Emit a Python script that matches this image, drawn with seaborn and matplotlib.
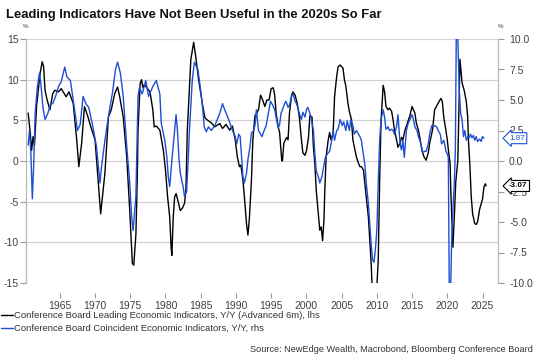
import matplotlib
matplotlib.use("Agg")
import matplotlib.pyplot as plt
import seaborn as sns
import pandas as pd

sns.set_theme(style="white")
plt.rcParams['font.family'] = ['Liberation Sans', 'DejaVu Sans']

# ---------------- data ----------------
lei_years = [1960.5, 1960.8, 1961.0, 1961.2, 1961.4, 1961.7, 1962.2, 1962.5, 1962.7, 1962.9,
             1963.2, 1963.6, 1964.0, 1964.3, 1964.8, 1965.2, 1965.9, 1966.3, 1966.9, 1967.4,
             1967.7, 1968.1, 1968.5, 1969.0, 1969.4, 1970.0, 1970.4, 1970.8, 1971.1, 1971.4,
             1971.9, 1972.3, 1972.8, 1973.2, 1973.5, 1974.0, 1974.5, 1974.9, 1975.3, 1975.5,
             1975.8, 1976.0, 1976.1, 1976.4, 1976.6, 1976.8, 1977.0, 1977.8, 1978.2, 1978.4,
             1978.7, 1979.2, 1979.7, 1980.0, 1980.3, 1980.6, 1980.8, 1980.9, 1981.1, 1981.3,
             1981.5, 1981.8, 1982.1, 1982.4, 1982.7, 1982.9, 1983.1, 1983.6, 1984.0, 1984.3,
             1984.7, 1985.3, 1985.6, 1986.0, 1986.5, 1987.0, 1987.7, 1988.1, 1988.6, 1989.1,
             1989.5, 1989.9, 1990.2, 1990.5, 1990.7, 1991.0, 1991.2, 1991.5, 1991.7, 1991.9,
             1992.2, 1992.4, 1992.7, 1992.9, 1993.2, 1993.5, 1993.8, 1994.1, 1994.4, 1994.7,
             1995.0, 1995.3, 1995.5, 1995.7, 1996.0, 1996.2, 1996.5, 1996.6, 1996.8, 1997.2,
             1997.4, 1997.6, 1997.9, 1998.1, 1998.4, 1998.7, 1999.0, 1999.3, 1999.5, 1999.8,
             2000.0, 2000.3, 2000.5, 2000.8, 2001.0, 2001.2, 2001.4, 2001.7, 2001.9, 2002.1,
             2002.3, 2002.5, 2002.6, 2002.8, 2003.1, 2003.3, 2003.5, 2003.8, 2004.0, 2004.3,
             2004.5, 2004.8, 2005.2, 2005.4, 2005.6, 2005.9, 2006.1, 2006.4, 2006.6, 2006.9,
             2007.1, 2007.4, 2007.6, 2007.8, 2008.1, 2008.5, 2008.8, 2009.2, 2009.4, 2009.9,
             2010.2, 2010.4, 2010.6, 2010.9, 2011.1, 2011.3, 2011.6, 2011.8, 2012.1, 2012.3,
             2012.5, 2012.8, 2013.0, 2013.3, 2013.5, 2013.7, 2014.0, 2014.2, 2014.7, 2015.0,
             2015.4, 2015.6, 2015.9, 2016.1, 2016.4, 2016.7, 2017.0, 2017.3, 2017.5, 2017.9,
             2018.2, 2018.7, 2019.1, 2019.3, 2019.5, 2019.8, 2020.0, 2020.2, 2020.4, 2020.5,
             2020.7, 2020.8, 2021.0, 2021.2, 2021.5, 2021.8, 2022.1, 2022.4, 2022.7, 2022.9,
             2023.0, 2023.2, 2023.4, 2023.6, 2023.9, 2024.1, 2024.3, 2024.6, 2024.8, 2025.0,
             2025.2, 2025.4, 2025.5]
lei_values = [5.9, 3.5, 1.3, 3.0, 1.9, 6.7, 10.8, 12.2, 11.6, 8.7,
              7.5, 6.3, 8.3, 8.7, 8.5, 8.9, 7.9, 8.5, 7.1, 2.6,
              -0.7, 2.2, 6.7, 5.4, 4.2, 2.6, -2.0, -6.5, -4.0, -1.5,
              5.4, 6.3, 8.3, 9.1, 7.9, 5.4, 0.5, -5.7, -12.6, -12.8,
              -9.0, -2.0, 3.8, 9.5, 10.0, 9.0, 9.4, 8.5, 6.3, 4.2,
              4.3, 3.8, 1.3, -1.1, -4.4, -6.9, -10.6, -11.6, -6.9, -4.4,
              -4.0, -5.0, -6.1, -5.8, -5.2, -3.5, 3.8, 12.5, 14.6, 12.8,
              10.0, 6.7, 5.3, 5.0, 4.7, 4.2, 4.6, 4.0, 4.5, 3.8,
              4.3, 2.6, 0.5, -0.7, -0.5, -2.4, -4.4, -7.7, -9.1, -7.2,
              -2.4, 2.6, 5.6, 5.8, 6.3, 8.1, 7.5, 6.7, 7.5, 7.5,
              8.9, 9.0, 8.1, 5.9, 4.2, 3.5, 0.1, 0.0, 2.2, 2.9,
              2.6, 5.9, 8.1, 8.5, 8.1, 7.1, 5.4, 2.6, 1.0, 0.7,
              1.2, 2.9, 5.6, 5.4, 1.7, -0.3, -3.6, -6.5, -8.5, -8.1,
              -9.8, -7.2, -4.0, 0.5, 2.6, 3.5, 2.6, 3.4, 7.9, 10.4,
              11.6, 11.8, 11.4, 10.0, 9.2, 7.1, 6.1, 5.1, 2.6, 1.3,
              0.5, -0.3, -0.7, -0.7, -1.1, -4.4, -6.9, -12.6, -17.0, -17.0,
              -12.2, -2.4, 5.0, 9.3, 8.5, 6.7, 6.3, 6.5, 6.1, 5.1,
              3.8, 2.6, 1.7, 2.2, 2.9, 2.6, 3.8, 4.3, 5.6, 6.7,
              5.9, 4.7, 3.8, 2.9, 1.3, 0.5, 0.1, 1.0, 2.2, 3.8,
              6.3, 7.1, 7.7, 7.3, 5.4, 3.8, 2.6, 1.0, -0.3, -3.6,
              -8.5, -10.6, -6.9, -2.6, 0.1, 12.5, 9.6, 8.7, 7.3, 5.4,
              2.6, -0.3, -4.4, -6.5, -7.7, -7.8, -7.5, -5.9, -5.3, -4.7,
              -3.2, -2.8, -3.07]

cei_years = [1960.5, 1960.7, 1960.9, 1961.1, 1961.3, 1961.5, 1961.8, 1962.1, 1962.3, 1962.6,
             1962.9, 1963.3, 1963.7, 1964.0, 1964.4, 1964.8, 1965.2, 1965.7, 1966.0, 1966.5,
             1967.1, 1967.5, 1967.9, 1968.3, 1968.7, 1969.1, 1969.7, 1970.2, 1970.7, 1970.9,
             1971.2, 1971.6, 1972.0, 1972.5, 1972.9, 1973.2, 1973.6, 1974.0, 1974.5, 1974.9,
             1975.2, 1975.4, 1975.8, 1976.1, 1976.3, 1976.7, 1977.2, 1977.6, 1978.2, 1978.7,
             1979.2, 1979.4, 1979.9, 1980.2, 1980.4, 1980.6, 1980.9, 1981.3, 1981.5, 1981.7,
             1981.9, 1982.1, 1982.5, 1982.7, 1983.0, 1983.2, 1983.4, 1983.8, 1984.1, 1984.6,
             1985.0, 1985.3, 1985.5, 1985.8, 1986.1, 1986.5, 1987.0, 1987.7, 1988.1, 1988.4,
             1988.7, 1989.1, 1989.5, 1989.9, 1990.1, 1990.4, 1990.6, 1990.8, 1991.0, 1991.2,
             1991.5, 1991.7, 1992.0, 1992.2, 1992.5, 1992.7, 1992.9, 1993.2, 1993.5, 1993.7,
             1994.0, 1994.3, 1994.5, 1994.7, 1994.9, 1995.2, 1995.5, 1995.7, 1996.0, 1996.2,
             1996.4, 1996.6, 1996.9, 1997.1, 1997.4, 1997.6, 1997.9, 1998.1, 1998.4, 1998.6,
             1999.0, 1999.3, 1999.5, 1999.8, 2000.0, 2000.2, 2000.5, 2000.7, 2001.0, 2001.2,
             2001.4, 2001.7, 2001.9, 2002.2, 2002.5, 2002.7, 2003.0, 2003.3, 2003.6, 2003.8,
             2004.0, 2004.3, 2004.5, 2004.8, 2005.1, 2005.3, 2005.6, 2005.8, 2006.1, 2006.3,
             2006.6, 2006.8, 2007.1, 2007.4, 2007.6, 2007.8, 2008.0, 2008.3, 2008.5, 2008.8,
             2009.0, 2009.2, 2009.4, 2009.6, 2009.8, 2010.0, 2010.2, 2010.4, 2010.6, 2010.9,
             2011.1, 2011.3, 2011.6, 2011.8, 2012.1, 2012.3, 2012.5, 2012.8, 2013.0, 2013.3,
             2013.5, 2013.7, 2013.9, 2014.2, 2014.4, 2014.7, 2015.0, 2015.2, 2015.4, 2015.7,
             2015.9, 2016.1, 2016.3, 2016.5, 2016.8, 2017.0, 2017.3, 2017.5, 2017.8, 2018.0,
             2018.2, 2018.5, 2018.7, 2019.0, 2019.2, 2019.5, 2019.7, 2019.8, 2020.0, 2020.15,
             2020.3, 2020.45, 2020.6, 2020.8, 2021.0, 2021.15, 2021.3, 2021.45, 2021.6, 2021.7,
             2021.9, 2022.1, 2022.3, 2022.5, 2022.7, 2022.9, 2023.1, 2023.3, 2023.5, 2023.7,
             2023.9, 2024.1, 2024.3, 2024.6, 2024.8, 2025.0, 2025.2]
cei_values = [1.3, 2.5, 0.5, -3.1, -0.2, 3.9, 6.0, 7.2, 6.4, 4.4,
              3.4, 3.9, 4.7, 4.7, 5.3, 6.1, 6.5, 7.7, 6.9, 6.6,
              4.2, 2.5, 3.0, 5.3, 4.7, 4.4, 2.8, 1.2, -1.8, -0.6,
              0.8, 2.5, 4.0, 5.7, 7.5, 8.1, 7.2, 5.3, 1.2, -1.6,
              -4.6, -5.7, -2.9, 5.3, 6.0, 5.5, 6.6, 5.3, 6.1, 6.6,
              5.5, 3.1, 1.7, 0.3, -1.3, -2.1, 0.0, 2.5, 3.8, 2.5,
              0.3, -1.0, -2.1, -2.9, -2.5, -0.2, 2.5, 6.6, 8.1, 7.5,
              5.8, 4.2, 2.8, 2.4, 2.8, 2.5, 2.9, 3.9, 4.7, 4.2,
              3.8, 3.2, 2.5, 2.0, 1.4, 2.2, 2.0, 0.3, -1.3, -1.8,
              -1.0, 0.1, 1.2, 2.3, 2.5, 2.9, 4.2, 2.5, 2.2, 2.0,
              2.5, 2.9, 3.6, 4.2, 4.9, 4.6, 4.2, 3.6, 2.7, 3.0,
              3.9, 4.2, 4.7, 4.9, 4.4, 4.6, 5.3, 5.5, 4.9, 4.7,
              3.9, 3.4, 4.0, 3.6, 4.2, 4.4, 3.9, 3.4, 2.5, 0.6,
              -0.8, -1.3, -1.8, -1.3, -0.3, 0.3, 0.6, 0.8, 1.7, 2.5,
              1.7, 2.5, 2.6, 3.4, 2.9, 3.2, 2.5, 3.3, 2.5, 3.4,
              2.9, 2.2, 2.5, 2.2, 2.0, 1.7, 0.9, -0.3, -1.8, -3.5,
              -5.1, -6.8, -8.1, -8.3, -7.2, -5.7, -1.8, 1.7, 3.4, 4.2,
              3.6, 2.6, 2.8, 2.5, 2.6, 2.5, 2.2, 2.8, 3.8, 1.4,
              0.9, 1.7, 0.3, 2.5, 3.0, 3.4, 3.8, 3.4, 2.8, 2.5,
              2.0, 1.7, 1.3, 0.7, 0.8, 0.8, 1.4, 2.2, 2.9, 2.8,
              2.9, 2.8, 2.5, 2.2, 1.4, 1.7, 1.2, 0.8, 0.6, 0.3,
              -12.0, -11.5, -7.0, -4.0, -1.8, 1.0, 12.0, 11.0, 8.0, 5.8,
              3.9, 3.4, 2.0, 2.5, 1.7, 2.0, 1.9, 2.2, 1.9, 2.1,
              1.7, 2.0, 1.6, 1.8, 1.6, 2.0, 1.87]

left_ticks = [-15, -10, -5, 0, 5, 10, 15]
right_ticks = [-10.0, -7.5, -5.0, -2.5, 0.0, 2.5, 5.0, 7.5, 10.0]
year_ticks = [1965, 1970, 1975, 1980, 1985, 1990, 1995, 2000, 2005, 2010, 2015, 2020, 2025]

lei_label = "Conference Board Leading Economic Indicators, Y/Y (Advanced 6m), lhs"
cei_label = "Conference Board Coincident Economic Indicators, Y/Y, rhs"
title = "Leading Indicators Have Not Been Useful in the 2020s So Far"
source = "Source: NewEdge Wealth, Macrobond, Bloomberg Conference Board"

lei_df = pd.DataFrame({"year": lei_years, "value": lei_values})
cei_df = pd.DataFrame({"year": cei_years, "value": cei_values})

# ---------------- figure ----------------
W, H = 537, 361
BLUE = "#1c4fd4"
TXT = "#404040"
fig = plt.figure(figsize=(W / 100, H / 100), dpi=100)
ax = fig.add_axes([26 / W, 1 - 283 / H, (498 - 26) / W, (283 - 39) / H])
ax2 = ax.twinx()

sns.lineplot(data=lei_df, x="year", y="value", ax=ax, color="black", linewidth=1.0,
             label=lei_label, legend=False)
sns.lineplot(data=cei_df, x="year", y="value", ax=ax2, color=BLUE, linewidth=1.0,
             label=cei_label, legend=False)

ax.set_xlim(1960.2, 2027.2)
ax.set_ylim(-15, 15)
ax2.set_ylim(-10, 10)
ax.set_yticks(left_ticks)
ax.set_yticklabels([str(t) for t in left_ticks])
ax2.set_yticks(right_ticks)
ax2.set_yticklabels([f"{t:.1f}" for t in right_ticks])
ax.set_xticks(year_ticks)
ax.set_xticklabels([str(y) for y in year_ticks])
ax.set_xlabel("")
ax.set_ylabel("")
ax2.set_xlabel("")
ax2.set_ylabel("")

ax.grid(axis="y", color="#d2d2d2", linewidth=0.9)
ax.grid(axis="x", visible=False)
ax2.grid(False)
ax.set_axisbelow(True)

for a in (ax, ax2):
    for s in ("top", "bottom"):
        a.spines[s].set_visible(False)
    a.spines["left"].set_color("#b8b8b8")
    a.spines["right"].set_color("#b8b8b8")
    a.spines["left"].set_linewidth(0.8)
    a.spines["right"].set_linewidth(0.8)
ax.spines["bottom"].set_position(("outward", 7))

ax.tick_params(axis="y", direction="out", length=4, width=0.8, color="#9a9a9a",
               pad=1.5, labelsize=7.5, labelcolor=TXT, left=True)
ax2.tick_params(axis="y", direction="out", length=4, width=0.8, color="#9a9a9a",
                pad=4, labelsize=7.5, labelcolor=TXT, right=True)
ax.tick_params(axis="x", direction="out", length=3.5, width=0.8, color="#9a9a9a",
               pad=2.5, labelsize=7.5, labelcolor=TXT, bottom=True)

# end-value callouts
ax2.annotate("1.87", xy=(1.0, cei_values[-1]), xycoords=("axes fraction", "data"),
             xytext=(8, 0), textcoords="offset points", ha="left", va="center",
             fontsize=5.8, color=BLUE, zorder=10, annotation_clip=False,
             bbox=dict(boxstyle="larrow,pad=0.25", fc="white", ec=BLUE, lw=0.8))
ax2.annotate("-3.07", xy=(1.0, lei_values[-1]), xycoords=(ax2.transAxes, ax.transData),
             xytext=(8, 0), textcoords="offset points", ha="left", va="center",
             fontsize=5.8, color="black", fontweight="bold", zorder=10,
             annotation_clip=False,
             bbox=dict(boxstyle="larrow,pad=0.25", fc="white", ec="black", lw=0.8))

# texts
fig.text(6 / W, 1 - 15 / H, title, fontsize=9.4, fontweight="bold", color="#111111",
         ha="left", va="center")
fig.text(26 / W, 1 - 26 / H, "%", fontsize=4.5, color=TXT, ha="center", va="center")
fig.text(501 / W, 1 - 26 / H, "%", fontsize=4.5, color=TXT, ha="center", va="center")
fig.text(533 / W, 1 - 349 / H, source, fontsize=6.6, color="#333333",
         ha="right", va="center")

h1 = ax.get_lines()[0]
h2 = ax2.get_lines()[0]
fig.legend([h1, h2], [lei_label, cei_label], loc="upper left",
           bbox_to_anchor=(1 / W, 1 - 311 / H), frameon=False, fontsize=6.8,
           handlelength=1.3, handletextpad=0.1, labelspacing=0.45,
           borderaxespad=0, borderpad=0, labelcolor="#333333")

fig.savefig("out.png", dpi=100)
